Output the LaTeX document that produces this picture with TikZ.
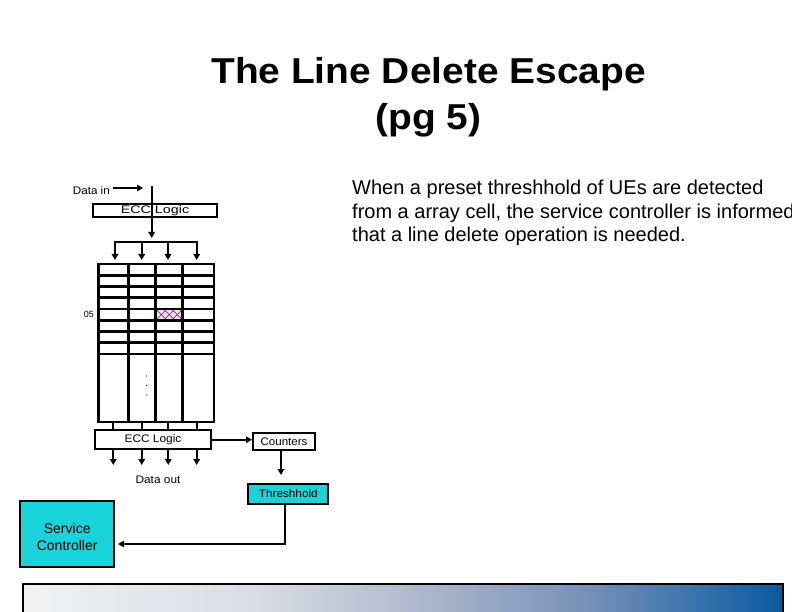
\documentclass[tikz,border=0pt]{standalone}
\usepackage{fontspec}
\usepackage{graphicx}
\setmainfont{Liberation Sans}
\usetikzlibrary{arrows.meta}
\definecolor{scyan}{RGB}{24,212,218}
\definecolor{hatchc}{RGB}{150,40,110}
\definecolor{hatchbg}{RGB}{250,228,240}
\definecolor{g0}{RGB}{242,242,242}
\definecolor{g1}{RGB}{218,221,229}
\definecolor{g2}{RGB}{180,188,206}
\definecolor{g3}{RGB}{120,145,185}
\definecolor{g4}{RGB}{10,90,160}
\pgfdeclarehorizontalshading{barshade}{100bp}{color(0bp)=(g0); color(25bp)=(g0); color(40bp)=(g1); color(50bp)=(g2); color(62bp)=(g3); color(75bp)=(g4); color(100bp)=(g4)}
\newcommand{\hstr}[2]{\scalebox{#1}[1]{#2}}
\begin{document}
\begin{tikzpicture}[x=1pt,y=-1pt,
  lbl/.style={inner sep=0pt, font=\fontsize{11}{13}\selectfont},
  box/.style={draw, line width=2pt, inner sep=0pt, font=\fontsize{11}{13}\selectfont},
  cbox/.style={box, fill=scyan},
  conn/.style={line width=1.8pt, -{Triangle[length=6pt,width=6.5pt]}},
  plain/.style={line width=1.8pt},
  arr/.style={line width=2.7pt, line cap=rect}]
\useasboundingbox (0,0) rectangle (792,612);

% title
\node[anchor=base, inner sep=0pt, font=\fontsize{36}{40}\selectfont\bfseries] (t1) at (428.5,83.5) {\hstr{1.08}{The Line Delete Escape}};
\node[anchor=base, inner sep=0pt, font=\fontsize{36}{40}\selectfont\bfseries] (t2) at (428.5,129.5) {\hstr{1.08}{(pg 5)}};

% body text
\node[anchor=base west, inner sep=0pt, font=\fontsize{20}{24}\selectfont] (b1) at (352,195) {When a preset threshhold of UEs are detected};
\node[anchor=base west, inner sep=0pt, font=\fontsize{20}{24}\selectfont] (b2) at (352,218.5) {from a array cell, the service controller is informed};
\node[anchor=base west, inner sep=0pt, font=\fontsize{20}{24}\selectfont] (b3) at (352,242) {that a line delete operation is needed.};

% data in
\node[lbl, anchor=east] (din) at (110,190.5) {\hstr{1.06}{Data in}};
\coordinate (dinS) at (113,188);
\coordinate (dinE) at (143,188);
\draw[conn] (dinS) -- (dinE);

% top ECC
\coordinate (vtop) at (151.7,186.5);
\coordinate (vtip) at (151.7,238);
\draw[conn] (vtop) -- (vtip);
\node[box, minimum width=123.4pt, minimum height=12.7pt] (eccT) at (155,210.4) {\hstr{1.3}{ECC Logic}};
\draw[plain] (eccT.north -| vtop) -- (eccT.south -| vtop);
\coordinate (barL) at (114.1,241.7);
\coordinate (barR) at (197.6,241.7);
\draw[plain] (barL) -- (barR);
\foreach \i/\x in {1/115,2/141.7,3/168,4/196.7} {
  \coordinate (ta\i) at (\x,241.7);
  \coordinate (tb\i) at (\x,260);
  \draw[conn] (ta\i) -- (tb\i);
}

% array
\fill[hatchbg] (155.7,309) rectangle (182.7,320.25);
\begin{scope}
  \clip (155.7,309) rectangle (182.7,320.25);
  \foreach \i in {-2,...,4} {
    \draw[hatchc, line width=0.7pt] ({155.7+8*\i},309) -- ({155.7+8*\i+11.25},320.25);
    \draw[hatchc, line width=0.7pt] ({155.7+8*\i},320.25) -- ({155.7+8*\i+11.25},309);
  }
\end{scope}
\draw[arr] (98.3,264) rectangle (214,422);
\foreach \x in {128.3,155.7,182.7} \draw[arr] (\x,264) -- (\x,422);
\foreach \k [evaluate=\k as \yy using 264+11.25*\k] in {1,...,8} \draw[arr] (98.3,\yy) -- (214,\yy);
\foreach \y in {376,385.5,395} \fill (146.7,\y) circle (0.6pt);
\node[anchor=east, inner sep=0pt, font=\fontsize{9}{11}\selectfont] (row05) at (94,314) {05};

% bottom ECC
\node[box, minimum width=116pt, minimum height=19.3pt] (eccB) at (153,439.7) {\hstr{1.08}{ECC Logic}};
\foreach \i/\x in {1/113.3,2/141.7,3/168.3,4/196.7} {
  \coordinate (ba\i) at (\x,422);
  \coordinate (bb\i) at (\x,465);
  \draw[plain] (ba\i) -- (ba\i |- eccB.north);
  \draw[conn] (ba\i |- eccB.south) -- (bb\i);
}
\node[lbl] (dout) at (158,480) {\hstr{1.08}{Data out}};

% counters & threshold
\node[box, minimum width=62pt, minimum height=17pt] (cnt) at (284,441.5) {\hstr{1.05}{Counters}};
\draw[conn] (eccB.east) -- (eccB.east -| cnt.west);
\node[cbox, minimum width=80pt, minimum height=20pt] (thr) at (288.3,494) {\hstr{1.07}{Threshhold}};
\draw[conn, shorten >=8pt] ([xshift=-3pt]cnt.south) -- ([xshift=-3pt]cnt.south |- thr.north);

% service controller
\node[cbox, minimum width=94.3pt, minimum height=66.6pt] (sc) at (67.2,534) {};
\node[inner sep=0pt, align=center, font=\fontsize{14}{17}\selectfont] (sct) at (67.2,536.5) {Service\\Controller};
\coordinate (scin) at (118,544);
\draw[conn] ([xshift=-3pt]thr.south) |- (scin);

% bottom bar
\shade[shading=barshade] (23,584) rectangle (783,630);
\draw[line width=2.5pt] (23,630) -- (23,584) -- (783,584) -- (783,630);
\end{tikzpicture}
\end{document}
